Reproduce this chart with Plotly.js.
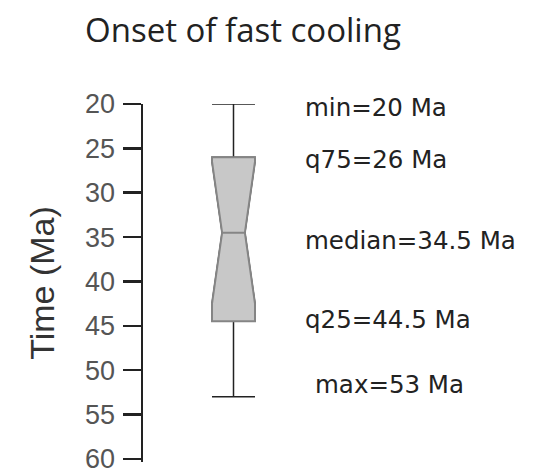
<!DOCTYPE html>
<html>
<head>
<meta charset="utf-8">
<script src="https://cdn.plot.ly/plotly-3.0.1.min.js"></script>
<style>html,body{margin:0;padding:0;background:#fff;}#chart{width:548px;height:470px;}</style>
</head>
<body>
<div id="chart"></div>
<script>
// Box statistics (Ma)
const boxPosition = [0];
const minVal = [20];
const q75Val = [26];
const medianVal = [34.5];
const q25Val = [44.5];
const maxVal = [53];
const notchHalfSpan = [8];
const statLabels = ['min=20 Ma', 'q75=26 Ma', 'median=34.5 Ma', 'q25=44.5 Ma', 'max=53 Ma'];
const statValues = [minVal[0], q75Val[0], medianVal[0], q25Val[0], maxVal[0]];
const yTicks = [20, 25, 30, 35, 40, 45, 50, 55, 60];

const whiskerTrace = {
  type: 'box', x: boxPosition,
  q1: q75Val, median: medianVal, q3: q25Val,
  lowerfence: minVal, upperfence: maxVal,
  notched: true, notchspan: notchHalfSpan, notchwidth: 0.235,
  width: 0.475, whiskerwidth: 1,
  fillcolor: 'rgba(0,0,0,0)',
  line: {color: '#222222', width: 1.5},
  boxpoints: false, hoverinfo: 'skip', showlegend: false
};
const boxTrace = {
  type: 'box', x: boxPosition,
  q1: q75Val, median: medianVal, q3: q25Val,
  lowerfence: q75Val, upperfence: q25Val,
  notched: true, notchspan: notchHalfSpan, notchwidth: 0.235,
  width: 0.475, whiskerwidth: 1,
  fillcolor: '#c8c8c8',
  line: {color: '#858585', width: 2},
  boxpoints: false, hoverinfo: 'skip', showlegend: false
};

const xOffsets = [0.768, 0.768, 0.768, 0.768, 0.878];
const yShifts = [-3, -2, -8, 2, 12];
const annotations = statLabels.map((t, i) => ({
  x: xOffsets[i], y: statValues[i], xref: 'x', yref: 'y',
  text: t, showarrow: false, xanchor: 'left', yanchor: 'middle',
  yshift: yShifts[i],
  font: {family: 'DejaVu Sans, sans-serif', size: 24.5, color: '#222222'}
}));

const layout = {
  width: 548, height: 470,
  margin: {l: 143, r: 224, t: 104, b: 8, pad: 0},
  paper_bgcolor: '#ffffff', plot_bgcolor: '#ffffff',
  boxmode: 'overlay',
  title: {
    text: 'Onset of fast cooling',
    x: 85 / 548, xref: 'container', xanchor: 'left',
    y: 1 - 30 / 470, yref: 'container', yanchor: 'middle',
    font: {family: 'Open Sans, sans-serif', size: 33, color: '#222222'}
  },
  xaxis: {
    range: [-1, 1], visible: false, fixedrange: true
  },
  yaxis: {
    range: [60.35, 20], tickvals: yTicks, ticktext: yTicks.map(String),
    showgrid: false, zeroline: false,
    showline: true, linecolor: '#222222', linewidth: 2.5,
    ticks: 'outside', ticklen: 18, tickwidth: 2.5, tickcolor: '#222222',
    ticklabelstandoff: 2, ticklabeloverflow: 'allow',
    tickfont: {family: 'Liberation Sans, Arial, sans-serif', size: 27, color: '#555555'},
    title: {text: 'Time (Ma)', standoff: 20,
      font: {family: 'Liberation Sans, Arial, sans-serif', size: 34, color: '#333333'}}
  },
  annotations: annotations,
  showlegend: false
};

Plotly.newPlot('chart', [whiskerTrace, boxTrace], layout, {displayModeBar: false, staticPlot: true});
</script>
</body>
</html>
